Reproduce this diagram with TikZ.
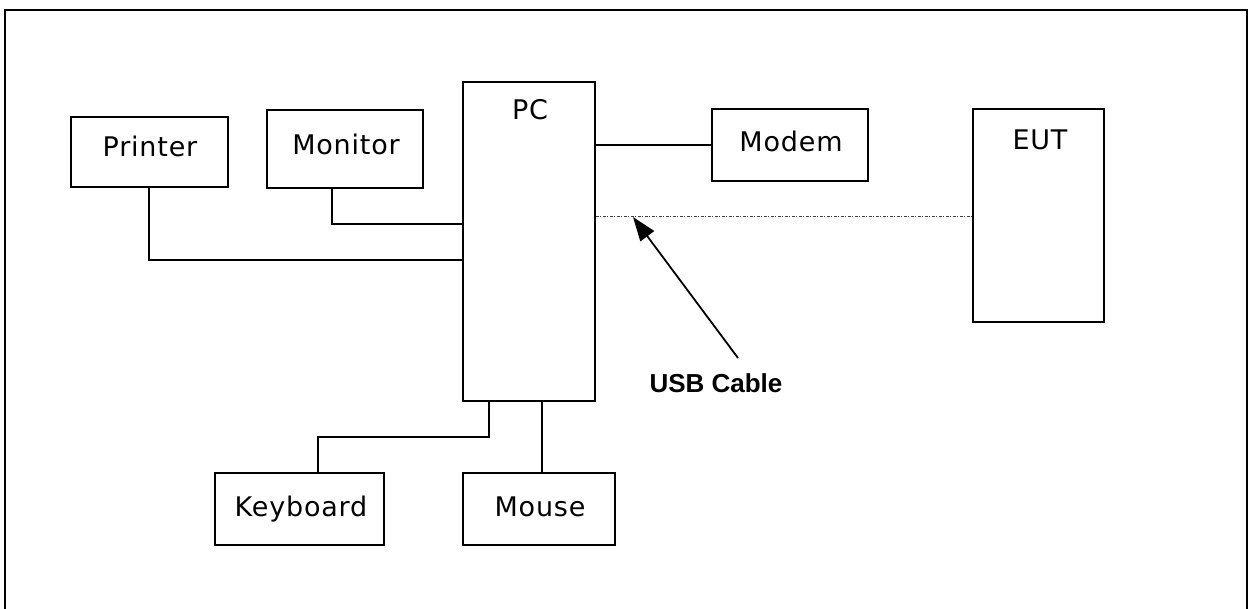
\documentclass[tikz,border=0pt]{standalone}
\usepackage{fontspec}
\setmainfont{DejaVu Sans}
\newfontfamily\labelfont{DejaVu Sans}[LetterSpace=3]
\newfontfamily\calloutfont{Liberation Sans}
\usetikzlibrary{arrows.meta}
\begin{document}
\begin{tikzpicture}[x=1pt,y=-1pt,
  box/.style={draw=black,line width=1.7pt,rectangle,inner sep=0pt},
  txt/.style={anchor=base,inner sep=0pt,font=\labelfont\fontsize{27}{32}\selectfont},
  wire/.style={draw=black,line width=1.4pt},
  usb/.style={draw=black!75,line width=0.8pt,dash pattern=on 3pt off 1.5pt on 1pt off 1.5pt},
  pointer/.style={draw=black,line width=1.8pt,-{Triangle[length=24pt,width=17pt]}},
  callout/.style={anchor=base,inner sep=0pt,font=\calloutfont\bfseries\fontsize{26}{30}\selectfont}]
\clip (0,0) rectangle (1248,609);
\useasboundingbox (0,0) rectangle (1248,609);
\fill[white] (0,0) rectangle (1248,609);
% outer frame, open at the bottom edge of the page
\draw[line width=2pt] (5,640) -- (5,10.5) -- (1247,10.5) -- (1247,640);

% equipment boxes
\node[box,minimum width=157pt,minimum height=70pt] (printer) at (149.5,152) {};
\node[box,minimum width=156pt,minimum height=78pt] (monitor) at (345,149) {};
\node[box,minimum width=132pt,minimum height=319pt] (pc) at (529,241.5) {};
\node[box,minimum width=156pt,minimum height=72pt] (modem) at (790,145) {};
\node[box,minimum width=131pt,minimum height=213pt] (eut) at (1038.5,215.5) {};
\node[box,minimum width=169pt,minimum height=72pt] (keyboard) at (299.5,509) {};
\node[box,minimum width=152pt,minimum height=72pt] (mouse) at (539,509) {};

% box labels
\node[txt] (printerlbl) at (150,157) {Printer};
\node[txt] (monitorlbl) at (346,155) {Monitor};
\node[txt] (pclbl) at (530,120) {PC};
\node[txt] (modemlbl) at (791,152) {Modem};
\node[txt] (eutlbl) at (1040,150) {EUT};
\node[txt] (keyboardlbl) at (301,516) {Keyboard};
\node[txt] (mouselbl) at (540,516) {Mouse};

% cable routing points
\coordinate (prnrow) at (149,260);
\coordinate (monrow) at (332,224);
\coordinate (kbdrop) at (489,437);
\coordinate (kbturn) at (318,437);
\coordinate (mscol) at (542,0);
\coordinate (usbrow) at (0,216);

% cables
\draw[wire] (printer.south -| prnrow) |- (pc.west |- prnrow);
\draw[wire] (monitor.south -| monrow) |- (pc.west |- monrow);
\draw[wire] (pc.east |- modem.west) -- (modem.west);
\draw[wire] (pc.south -| kbdrop) |- (kbturn) -- (keyboard.north -| kbturn);
\draw[wire] (pc.south -| mscol) -- (mouse.north -| mscol);
\draw[usb] (pc.east |- usbrow) -- (eut.west |- usbrow);

% USB cable callout
\node[callout] (usblbl) at (716,393) {USB Cable};
\coordinate (ptail) at (738,358);
\coordinate (ptip) at (633,217);
\draw[pointer] (ptail) -- (ptip);
\end{tikzpicture}
\end{document}
